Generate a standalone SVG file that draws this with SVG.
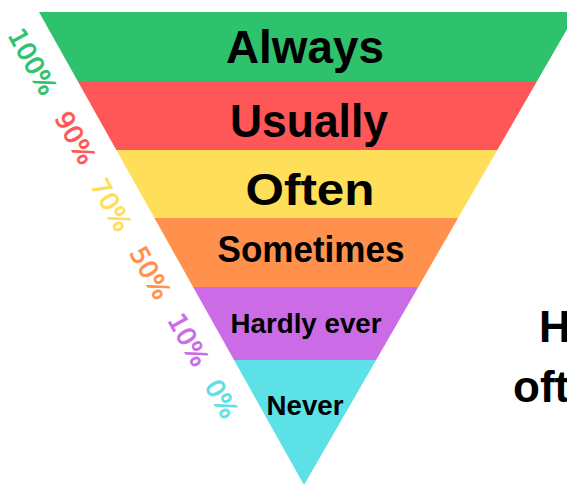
<svg xmlns="http://www.w3.org/2000/svg" width="567" height="484" viewBox="0 0 567 484">
<style>
.lbl{font-family:"Liberation Sans",Arial,sans-serif;font-weight:bold;fill:#000;text-anchor:middle}
.pct{font-family:"DejaVu Sans","Liberation Sans",sans-serif;font-size:25px;text-anchor:middle;dominant-baseline:central;stroke-width:0.8}
.side{font-family:"Liberation Sans",Arial,sans-serif;font-size:44px;fill:#000}
</style>
<defs>
<clipPath id="tri"><polygon points="39,12 577,12 304,485"/></clipPath>
</defs>
<rect width="567" height="484" fill="#fff"/>
<g clip-path="url(#tri)">
<g id="always"><rect x="0" y="12" width="600" height="69" fill="#2EC26D"/></g>
<g id="usually"><rect x="0" y="81" width="600" height="69" fill="#FF5757"/></g>
<g id="often"><rect x="0" y="150" width="600" height="68" fill="#FFDE59"/></g>
<g id="sometimes"><rect x="0" y="218" width="600" height="69" fill="#FF914D"/></g>
<g id="hardly"><rect x="0" y="287" width="600" height="73" fill="#CB6CE6"/></g>
<g id="never"><rect x="0" y="360" width="600" height="130" fill="#5CE1E6"/></g>
</g>
<g id="labels">
<text class="lbl" x="305" y="63" font-size="47" textLength="158" lengthAdjust="spacingAndGlyphs">Always</text>
<text class="lbl" x="309" y="137" font-size="47" textLength="158" lengthAdjust="spacingAndGlyphs">Usually</text>
<text class="lbl" x="310" y="205" font-size="45" textLength="129" lengthAdjust="spacingAndGlyphs">Often</text>
<text class="lbl" x="311" y="262" font-size="36" textLength="187" lengthAdjust="spacingAndGlyphs">Sometimes</text>
<text class="lbl" x="306" y="333" font-size="28" textLength="151" lengthAdjust="spacingAndGlyphs">Hardly ever</text>
<text class="lbl" x="305" y="415" font-size="28" textLength="77" lengthAdjust="spacingAndGlyphs">Never</text>
</g>
<g id="percents">
<text class="pct" fill="#2EC26D" stroke="#2EC26D" transform="translate(32,62) rotate(61)">100%</text>
<text class="pct" fill="#FF5757" stroke="#FF5757" transform="translate(75,138) rotate(61)">90%</text>
<text class="pct" fill="#FFDE59" stroke="#FFDE59" transform="translate(111,205) rotate(61)">70%</text>
<text class="pct" fill="#FF914D" stroke="#FF914D" transform="translate(150,273) rotate(61)">50%</text>
<text class="pct" fill="#CB6CE6" stroke="#CB6CE6" transform="translate(188,340) rotate(61)">10%</text>
<text class="pct" fill="#5CE1E6" stroke="#5CE1E6" transform="translate(221,399) rotate(61)">0%</text>
</g>
<g id="title">
<text class="side" x="539" y="342" font-weight="bold">H</text>
<text class="side" x="513" y="402" font-weight="bold">oft</text>
</g>
</svg>
